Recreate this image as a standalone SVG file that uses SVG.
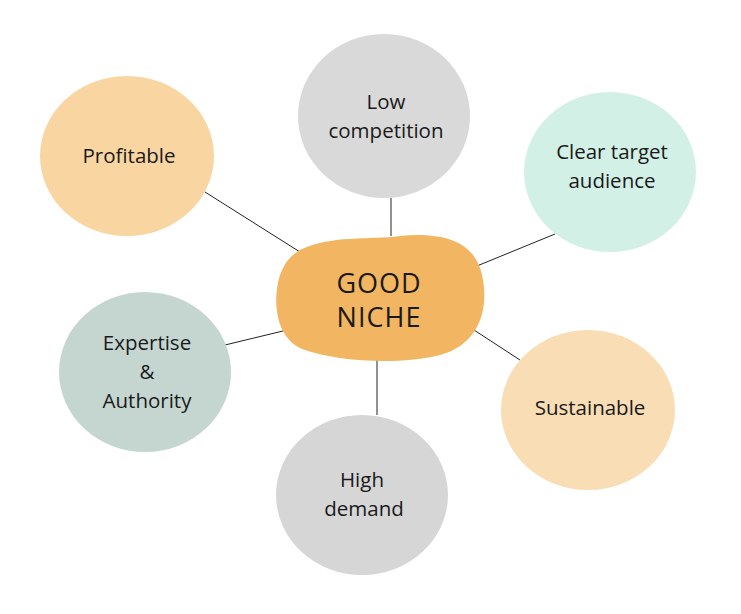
<svg xmlns="http://www.w3.org/2000/svg" width="741" height="614" viewBox="0 0 741 614">
<style>
.t{font-family:"Open Sans","Liberation Sans",sans-serif;font-size:20.5px;fill:#1a1a1a;text-anchor:middle}
.c{font-family:"Open Sans","Liberation Sans",sans-serif;font-size:27px;fill:#1a1a1a;text-anchor:middle;letter-spacing:1px}
.l{stroke:#222;stroke-width:1;fill:none}
</style>
<rect width="741" height="614" fill="#fff"/>
<g id="connectors">
<line class="l" x1="205" y1="192" x2="300" y2="252"/>
<line class="l" x1="391" y1="198" x2="391" y2="236"/>
<line class="l" x1="555" y1="234" x2="472" y2="268"/>
<line class="l" x1="520" y1="360" x2="474" y2="330"/>
<line class="l" x1="377" y1="415" x2="377" y2="360"/>
<line class="l" x1="225" y1="345" x2="287" y2="330"/>
</g>
<g id="center">
<path d="M300,250 C330,235 370,240 400,236 C440,232 475,240 482,275 C490,310 478,345 440,355 C400,365 340,362 305,350 C275,340 272,300 280,275 C285,262 290,256 300,250 Z" fill="#F2B662"/>
<text class="c" x="379" y="293">GOOD</text>
<text class="c" x="379" y="327">NICHE</text>
</g>
<g id="profitable"><ellipse cx="127" cy="156" rx="87" ry="80" fill="#F9D5A2"/><text class="t" x="129" y="163">Profitable</text></g>
<g id="low"><ellipse cx="384" cy="116" rx="86" ry="82" fill="#D9D9D9"/><text class="t" x="386" y="109">Low</text><text class="t" x="386" y="138">competition</text></g>
<g id="clear"><ellipse cx="610" cy="172" rx="86" ry="80" fill="#D3F0E6"/><text class="t" x="612" y="159">Clear target</text><text class="t" x="612" y="188">audience</text></g>
<g id="sustainable"><ellipse cx="588" cy="410" rx="87" ry="80" fill="#F9DDB5"/><text class="t" x="590" y="415">Sustainable</text></g>
<g id="high"><ellipse cx="362" cy="495" rx="86" ry="80" fill="#D6D6D6"/><text class="t" x="362" y="487">High</text><text class="t" x="364" y="516">demand</text></g>
<g id="expertise"><ellipse cx="145" cy="372" rx="86" ry="80" fill="#C5D6D1"/><text class="t" x="147" y="350">Expertise</text><text class="t" x="147" y="379">&amp;</text><text class="t" x="147" y="408">Authority</text></g>
</svg>
